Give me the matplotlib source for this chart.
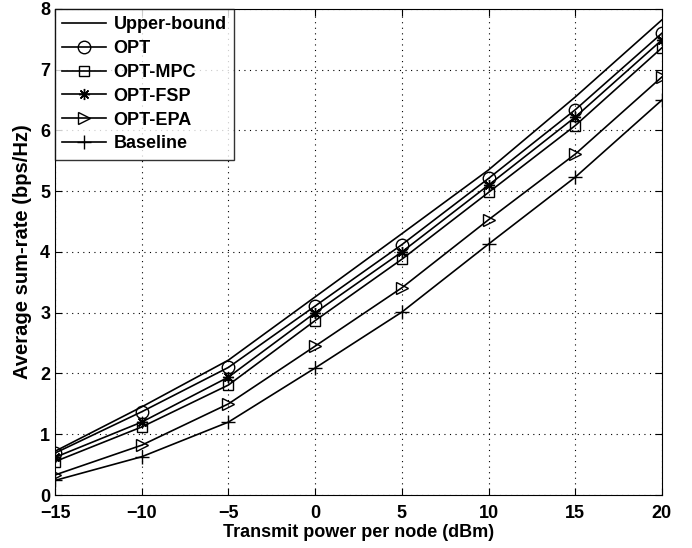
import matplotlib
matplotlib.use("Agg")
import matplotlib.pyplot as plt

plt.rcParams['font.family'] = ['Liberation Sans', 'DejaVu Sans']
plt.rcParams['font.weight'] = 'bold'

power = [-15, -10, -5, 0, 5, 10, 15, 20]
upper_bound = [0.72, 1.45, 2.22, 3.26, 4.30, 5.35, 6.55, 7.82]
opt = [0.69, 1.37, 2.10, 3.11, 4.12, 5.21, 6.34, 7.60]
opt_mpc = [0.55, 1.12, 1.81, 2.87, 3.88, 4.98, 6.08, 7.36]
opt_fsp = [0.62, 1.20, 1.94, 3.00, 4.00, 5.10, 6.22, 7.49]
opt_epa = [0.33, 0.82, 1.50, 2.45, 3.41, 4.53, 5.61, 6.88]
baseline = [0.24, 0.63, 1.20, 2.09, 3.01, 4.13, 5.23, 6.50]

series = [
    ("Upper-bound", upper_bound, "None", 8),
    ("OPT", opt, "o", 9),
    ("OPT-MPC", opt_mpc, "s", 7.5),
    ("OPT-FSP", opt_fsp, (8, 2, 0), 8),
    ("OPT-EPA", opt_epa, ">", 9),
    ("Baseline", baseline, "+", 10),
]

fig = plt.figure(figsize=(6.92, 5.48), dpi=100)
ax = fig.add_axes([0.0795, 0.0967, 0.877, 0.887])

for name, vals, mk, ms in series:
    ax.plot(power, vals, color="black", linewidth=1.2, marker=mk,
            markersize=ms, markerfacecolor="none", markeredgecolor="black",
            markeredgewidth=1.0, label=name)

ax.set_xlim(-15, 20)
ax.set_ylim(0, 8)
ax.set_xticks(power)
ax.set_yticks(range(0, 9))
ax.grid(True, linestyle=(0, (1, 4)), color="black", linewidth=0.8)
ax.tick_params(direction="in", labelsize=13, length=5, top=True, right=True)
ax.tick_params(axis="x", pad=7.5)
for lbl in ax.get_xticklabels() + ax.get_yticklabels():
    lbl.set_fontweight("bold")
ax.set_xlabel("Transmit power per node (dBm)", fontsize=13, fontweight="bold", labelpad=1)
ax.set_ylabel("Average sum-rate (bps/Hz)", fontsize=14.5, fontweight="bold", labelpad=6)

leg = ax.legend(loc="upper left", fontsize=13, frameon=True, fancybox=False,
                edgecolor="black", borderaxespad=0, handlelength=2.4,
                labelspacing=0.38, borderpad=0.4, handletextpad=0.45)
leg.get_frame().set_linewidth(1.0)
for t in leg.get_texts():
    t.set_fontweight("bold")

fig.savefig("out.png", dpi=100)
